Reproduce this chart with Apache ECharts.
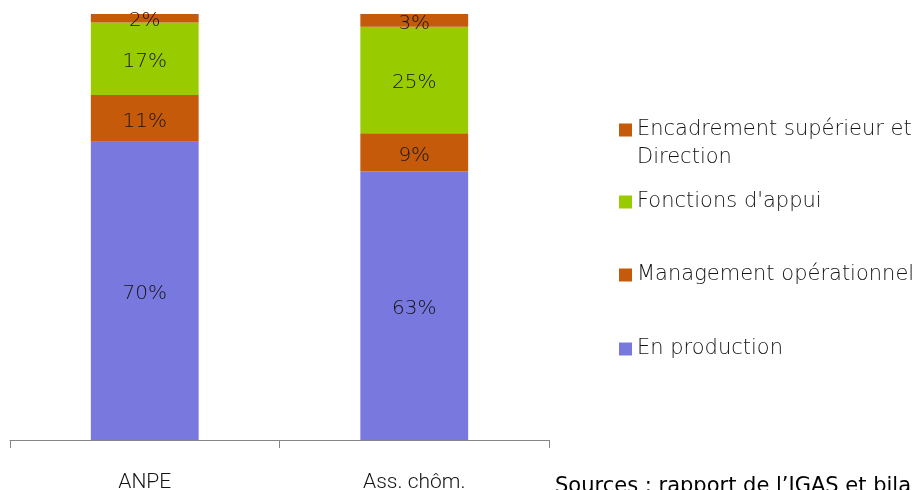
<!DOCTYPE html>
<html><head><meta charset="utf-8">
<script src="https://cdn.jsdelivr.net/npm/echarts@6/dist/echarts.min.js"></script>
<style>html,body{margin:0;padding:0;background:#fff}#c{width:913px;height:490px}</style>
</head><body><div id="c"></div>
<script>
const categories = ['ANPE', 'Ass. chôm.'];
const seriesNames = ['En production', 'Management opérationnel', "Fonctions d'appui", 'Encadrement supérieur et Direction'];
const enProduction = [70, 63];
const management = [11, 9];
const fonctionsAppui = [17, 25];
const encadrement = [2, 3];
const sourceText = 'Sources : rapport de l’IGAS et bila';

const colors = ['#7878DE', '#C55A0B', '#99CC00', '#C55A0B'];
const values = [enProduction, management, fonctionsAppui, encadrement];
const FONT = 'DejaVu Sans';
const WEIGHT = 200;
const TEXT = '#141414';

const chart = echarts.init(document.getElementById('c'));
const legendTops = [335, 261, 188, 88];
const legends = seriesNames.map((n, i) => ({
  data: [n],
  left: 619,
  top: legendTops[i],
  padding: 0,
  orient: 'vertical',
  itemWidth: 13,
  itemHeight: 13,
  itemGap: 0,
  icon: 'rect',
  selectedMode: false,
  formatter: i === 3 ? ' \nEncadrement supérieur et\nDirection' : '{name}',
  textStyle: {
    fontFamily: FONT, fontWeight: WEIGHT, fontSize: 21, color: TEXT, lineHeight: 28
  }
}));

chart.setOption({
  animation: false,
  color: colors,
  textStyle: { fontFamily: FONT },
  grid: { left: 10, right: 364, top: 14, bottom: 50, outerBoundsMode: 'none', containLabel: false },
  legend: legends,
  xAxis: {
    type: 'category',
    data: categories,
    axisLine: { lineStyle: { color: '#868686', width: 1 } },
    axisTick: { show: true, length: 8, lineStyle: { color: '#868686' } },
    axisLabel: { fontFamily: 'Roboto', fontWeight: 300, fontSize: 21, color: TEXT, margin: 32 }
  },
  yAxis: { type: 'value', min: 0, max: 100, show: false },
  series: seriesNames.map((n, i) => ({
    name: n,
    type: 'bar',
    stack: 'total',
    barWidth: '40%',
    data: values[i],
    itemStyle: { color: colors[i] },
    label: {
      show: true,
      position: 'inside',
      offset: [0, 3],
      formatter: '{c}%',
      fontFamily: FONT,
      fontWeight: WEIGHT,
      fontSize: 20,
      color: TEXT
    }
  })),
  graphic: [{
    type: 'text',
    left: 555,
    top: 476,
    style: { text: sourceText, fontFamily: 'DejaVu Sans', fontSize: 21, fill: '#000' }
  }]
});
</script></body></html>
